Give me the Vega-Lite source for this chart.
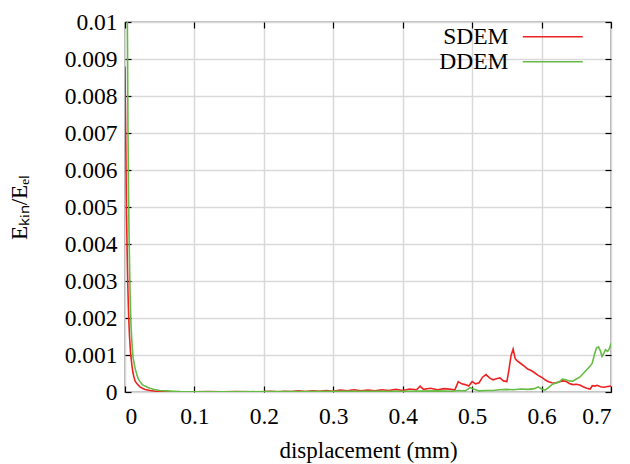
{
  "$schema": "https://vega.github.io/schema/vega-lite/v6.json",
  "width": 486,
  "height": 370,
  "autosize": {"type": "none"},
  "padding": {"left": 125, "top": 22, "right": 19, "bottom": 72},
  "background": "white",
  "config": {
    "view": {"stroke": "#000000", "strokeWidth": 1.2},
    "font": "Liberation Serif",
    "axis": {
      "labelFont": "Liberation Serif",
      "titleFont": "Liberation Serif",
      "labelFontSize": 23.5,
      "titleFontSize": 23,
      "labelColor": "#000000",
      "titleColor": "#000000",
      "titleFontWeight": "normal",
      "domain": false,
      "tickColor": "#000000",
      "tickSize": -6,
      "tickWidth": 1.2,
      "gridColor": "#d9d9d9",
      "gridWidth": 1.5
    }
  },
  "data": {
    "values": [
      {"s": "SDEM", "x": 0, "y": 0.0088},
      {"s": "SDEM", "x": 0.0007, "y": 0.0075},
      {"s": "SDEM", "x": 0.0014, "y": 0.0062},
      {"s": "SDEM", "x": 0.0022, "y": 0.0048},
      {"s": "SDEM", "x": 0.0029, "y": 0.004},
      {"s": "SDEM", "x": 0.0036, "y": 0.0033},
      {"s": "SDEM", "x": 0.0043, "y": 0.0027},
      {"s": "SDEM", "x": 0.005, "y": 0.0022},
      {"s": "SDEM", "x": 0.0058, "y": 0.0018},
      {"s": "SDEM", "x": 0.0065, "y": 0.0015},
      {"s": "SDEM", "x": 0.0072, "y": 0.0013},
      {"s": "SDEM", "x": 0.008, "y": 0.00105},
      {"s": "SDEM", "x": 0.0086, "y": 0.00095},
      {"s": "SDEM", "x": 0.0095, "y": 0.0008},
      {"s": "SDEM", "x": 0.0101, "y": 0.0007},
      {"s": "SDEM", "x": 0.0115, "y": 0.00052},
      {"s": "SDEM", "x": 0.013, "y": 0.0004},
      {"s": "SDEM", "x": 0.0144, "y": 0.0003},
      {"s": "SDEM", "x": 0.0173, "y": 0.00022},
      {"s": "SDEM", "x": 0.0216, "y": 0.00014},
      {"s": "SDEM", "x": 0.025, "y": 0.0001},
      {"s": "SDEM", "x": 0.0288, "y": 0.00007},
      {"s": "SDEM", "x": 0.036, "y": 0.00004},
      {"s": "SDEM", "x": 0.045, "y": 0.00002},
      {"s": "SDEM", "x": 0.06, "y": 0.00001},
      {"s": "SDEM", "x": 0.08, "y": 0.000005},
      {"s": "SDEM", "x": 0.1, "y": 0.000005},
      {"s": "SDEM", "x": 0.12, "y": 0.00001},
      {"s": "SDEM", "x": 0.14, "y": 0.000003},
      {"s": "SDEM", "x": 0.16, "y": 0.00001},
      {"s": "SDEM", "x": 0.18, "y": 0.000005},
      {"s": "SDEM", "x": 0.2, "y": 0.00001},
      {"s": "SDEM", "x": 0.21, "y": 0.00002},
      {"s": "SDEM", "x": 0.22, "y": 0.000005},
      {"s": "SDEM", "x": 0.23, "y": 0.00002},
      {"s": "SDEM", "x": 0.24, "y": 0.00001},
      {"s": "SDEM", "x": 0.25, "y": 0.00003},
      {"s": "SDEM", "x": 0.26, "y": 0.00001},
      {"s": "SDEM", "x": 0.27, "y": 0.00003},
      {"s": "SDEM", "x": 0.28, "y": 0.00002},
      {"s": "SDEM", "x": 0.29, "y": 0.00004},
      {"s": "SDEM", "x": 0.3, "y": 0.00002},
      {"s": "SDEM", "x": 0.31, "y": 0.00005},
      {"s": "SDEM", "x": 0.32, "y": 0.00003},
      {"s": "SDEM", "x": 0.33, "y": 0.00006},
      {"s": "SDEM", "x": 0.34, "y": 0.00003},
      {"s": "SDEM", "x": 0.35, "y": 0.00005},
      {"s": "SDEM", "x": 0.36, "y": 0.00003},
      {"s": "SDEM", "x": 0.37, "y": 0.00006},
      {"s": "SDEM", "x": 0.38, "y": 0.00004},
      {"s": "SDEM", "x": 0.39, "y": 0.00007},
      {"s": "SDEM", "x": 0.4, "y": 0.00004},
      {"s": "SDEM", "x": 0.41, "y": 0.00008},
      {"s": "SDEM", "x": 0.42, "y": 0.00006},
      {"s": "SDEM", "x": 0.425, "y": 0.00016},
      {"s": "SDEM", "x": 0.43, "y": 0.00007},
      {"s": "SDEM", "x": 0.44, "y": 0.0001},
      {"s": "SDEM", "x": 0.45, "y": 0.00006},
      {"s": "SDEM", "x": 0.46, "y": 0.00009},
      {"s": "SDEM", "x": 0.47, "y": 0.00007},
      {"s": "SDEM", "x": 0.475, "y": 0.00005},
      {"s": "SDEM", "x": 0.48, "y": 0.00028},
      {"s": "SDEM", "x": 0.485, "y": 0.00022},
      {"s": "SDEM", "x": 0.49, "y": 0.0002},
      {"s": "SDEM", "x": 0.495, "y": 0.00016},
      {"s": "SDEM", "x": 0.5, "y": 0.00028},
      {"s": "SDEM", "x": 0.505, "y": 0.00022},
      {"s": "SDEM", "x": 0.51, "y": 0.00025},
      {"s": "SDEM", "x": 0.515, "y": 0.0004},
      {"s": "SDEM", "x": 0.52, "y": 0.00047},
      {"s": "SDEM", "x": 0.525, "y": 0.00038},
      {"s": "SDEM", "x": 0.53, "y": 0.00033},
      {"s": "SDEM", "x": 0.535, "y": 0.00036},
      {"s": "SDEM", "x": 0.54, "y": 0.00038},
      {"s": "SDEM", "x": 0.545, "y": 0.0003},
      {"s": "SDEM", "x": 0.55, "y": 0.00028},
      {"s": "SDEM", "x": 0.553, "y": 0.0006},
      {"s": "SDEM", "x": 0.556, "y": 0.00098},
      {"s": "SDEM", "x": 0.559, "y": 0.00116},
      {"s": "SDEM", "x": 0.562, "y": 0.0009},
      {"s": "SDEM", "x": 0.565, "y": 0.00084},
      {"s": "SDEM", "x": 0.57, "y": 0.00077},
      {"s": "SDEM", "x": 0.575, "y": 0.0007},
      {"s": "SDEM", "x": 0.58, "y": 0.00062},
      {"s": "SDEM", "x": 0.585, "y": 0.00058},
      {"s": "SDEM", "x": 0.59, "y": 0.00052},
      {"s": "SDEM", "x": 0.595, "y": 0.00045},
      {"s": "SDEM", "x": 0.6, "y": 0.0004},
      {"s": "SDEM", "x": 0.605, "y": 0.00033},
      {"s": "SDEM", "x": 0.61, "y": 0.00028},
      {"s": "SDEM", "x": 0.615, "y": 0.00025},
      {"s": "SDEM", "x": 0.62, "y": 0.00024},
      {"s": "SDEM", "x": 0.625, "y": 0.00027},
      {"s": "SDEM", "x": 0.63, "y": 0.0003},
      {"s": "SDEM", "x": 0.635, "y": 0.00029},
      {"s": "SDEM", "x": 0.64, "y": 0.00023},
      {"s": "SDEM", "x": 0.645, "y": 0.0002},
      {"s": "SDEM", "x": 0.65, "y": 0.00021},
      {"s": "SDEM", "x": 0.655, "y": 0.00019},
      {"s": "SDEM", "x": 0.66, "y": 0.00014},
      {"s": "SDEM", "x": 0.665, "y": 0.0001},
      {"s": "SDEM", "x": 0.67, "y": 0.00008},
      {"s": "SDEM", "x": 0.673, "y": 0.00017},
      {"s": "SDEM", "x": 0.677, "y": 0.00016},
      {"s": "SDEM", "x": 0.68, "y": 0.00018},
      {"s": "SDEM", "x": 0.685, "y": 0.00014},
      {"s": "SDEM", "x": 0.69, "y": 0.00013},
      {"s": "SDEM", "x": 0.695, "y": 0.00015},
      {"s": "SDEM", "x": 0.7, "y": 0.00016},
      {"s": "DDEM", "x": 0, "y": 0.015},
      {"s": "DDEM", "x": 0.0014, "y": 0.013},
      {"s": "DDEM", "x": 0.0029, "y": 0.011},
      {"s": "DDEM", "x": 0.0036, "y": 0.0095},
      {"s": "DDEM", "x": 0.0043, "y": 0.007},
      {"s": "DDEM", "x": 0.005, "y": 0.0055},
      {"s": "DDEM", "x": 0.0058, "y": 0.0043},
      {"s": "DDEM", "x": 0.0065, "y": 0.0035},
      {"s": "DDEM", "x": 0.0072, "y": 0.0028},
      {"s": "DDEM", "x": 0.008, "y": 0.0022},
      {"s": "DDEM", "x": 0.0086, "y": 0.0018},
      {"s": "DDEM", "x": 0.0095, "y": 0.0015},
      {"s": "DDEM", "x": 0.0101, "y": 0.0013},
      {"s": "DDEM", "x": 0.0115, "y": 0.00095},
      {"s": "DDEM", "x": 0.013, "y": 0.0008},
      {"s": "DDEM", "x": 0.0144, "y": 0.00065},
      {"s": "DDEM", "x": 0.0173, "y": 0.00045},
      {"s": "DDEM", "x": 0.019, "y": 0.00036},
      {"s": "DDEM", "x": 0.0216, "y": 0.00028},
      {"s": "DDEM", "x": 0.025, "y": 0.0002},
      {"s": "DDEM", "x": 0.0288, "y": 0.00016},
      {"s": "DDEM", "x": 0.033, "y": 0.00012},
      {"s": "DDEM", "x": 0.036, "y": 0.0001},
      {"s": "DDEM", "x": 0.042, "y": 0.00007},
      {"s": "DDEM", "x": 0.05, "y": 0.00004},
      {"s": "DDEM", "x": 0.06, "y": 0.00003},
      {"s": "DDEM", "x": 0.07, "y": 0.00002},
      {"s": "DDEM", "x": 0.08, "y": 0.00001},
      {"s": "DDEM", "x": 0.1, "y": 0.000005},
      {"s": "DDEM", "x": 0.15, "y": 0.000005},
      {"s": "DDEM", "x": 0.2, "y": 0.00001},
      {"s": "DDEM", "x": 0.25, "y": 0.00001},
      {"s": "DDEM", "x": 0.3, "y": 0.00002},
      {"s": "DDEM", "x": 0.35, "y": 0.00002},
      {"s": "DDEM", "x": 0.4, "y": 0.00002},
      {"s": "DDEM", "x": 0.45, "y": 0.00003},
      {"s": "DDEM", "x": 0.47, "y": 0.00002},
      {"s": "DDEM", "x": 0.48, "y": 0.00004},
      {"s": "DDEM", "x": 0.49, "y": 0.00003},
      {"s": "DDEM", "x": 0.497, "y": 0.00012},
      {"s": "DDEM", "x": 0.502, "y": 0.00008},
      {"s": "DDEM", "x": 0.51, "y": 0.00003},
      {"s": "DDEM", "x": 0.52, "y": 0.00004},
      {"s": "DDEM", "x": 0.53, "y": 0.00004},
      {"s": "DDEM", "x": 0.54, "y": 0.00006},
      {"s": "DDEM", "x": 0.55, "y": 0.00007},
      {"s": "DDEM", "x": 0.56, "y": 0.00006},
      {"s": "DDEM", "x": 0.57, "y": 0.00008},
      {"s": "DDEM", "x": 0.58, "y": 0.00007},
      {"s": "DDEM", "x": 0.59, "y": 0.00009},
      {"s": "DDEM", "x": 0.595, "y": 0.00014},
      {"s": "DDEM", "x": 0.6, "y": 0.00008},
      {"s": "DDEM", "x": 0.605, "y": 0.00005},
      {"s": "DDEM", "x": 0.61, "y": 0.00012},
      {"s": "DDEM", "x": 0.615, "y": 0.0002},
      {"s": "DDEM", "x": 0.62, "y": 0.00024},
      {"s": "DDEM", "x": 0.625, "y": 0.00027},
      {"s": "DDEM", "x": 0.63, "y": 0.00035},
      {"s": "DDEM", "x": 0.635, "y": 0.00033},
      {"s": "DDEM", "x": 0.64, "y": 0.0003},
      {"s": "DDEM", "x": 0.645, "y": 0.00029},
      {"s": "DDEM", "x": 0.65, "y": 0.00035},
      {"s": "DDEM", "x": 0.655, "y": 0.0004},
      {"s": "DDEM", "x": 0.66, "y": 0.0005},
      {"s": "DDEM", "x": 0.665, "y": 0.0006},
      {"s": "DDEM", "x": 0.67, "y": 0.0007},
      {"s": "DDEM", "x": 0.673, "y": 0.00078},
      {"s": "DDEM", "x": 0.676, "y": 0.001},
      {"s": "DDEM", "x": 0.679, "y": 0.00119},
      {"s": "DDEM", "x": 0.682, "y": 0.00122},
      {"s": "DDEM", "x": 0.685, "y": 0.0011},
      {"s": "DDEM", "x": 0.687, "y": 0.00096},
      {"s": "DDEM", "x": 0.69, "y": 0.00106},
      {"s": "DDEM", "x": 0.692, "y": 0.00114},
      {"s": "DDEM", "x": 0.695, "y": 0.0011},
      {"s": "DDEM", "x": 0.697, "y": 0.00115},
      {"s": "DDEM", "x": 0.699, "y": 0.00125},
      {"s": "DDEM", "x": 0.7, "y": 0.00132}
    ]
  },
  "layer": [
    {
      "mark": {"type": "line", "clip": true, "strokeWidth": 1.6},
      "encoding": {
        "x": {
          "field": "x", "type": "quantitative",
          "scale": {"domain": [0, 0.7], "nice": false, "zero": false},
          "axis": {
            "values": [0, 0.1, 0.2, 0.3, 0.4, 0.5, 0.6, 0.7],
            "format": "~g",
            "title": "displacement (mm)",
            "labelPadding": 18,
            "titlePadding": 12,
            "grid": true
          }
        },
        "y": {
          "field": "y", "type": "quantitative",
          "scale": {"domain": [0, 0.01], "nice": false, "zero": false},
          "axis": {
            "values": [0, 0.001, 0.002, 0.003, 0.004, 0.005, 0.006, 0.007, 0.008, 0.009, 0.01],
            "format": "~g",
            "title": "Eₖᵢₙ/Eₑₗ",
            "labelPadding": 14,
            "titlePadding": 33,
            "grid": true
          }
        },
        "color": {
          "field": "s", "type": "nominal",
          "scale": {"domain": ["SDEM", "DDEM"], "range": ["#ee2222", "#66bb44"]},
          "legend": {
            "title": null,
            "orient": "none",
            "legendX": 416,
            "legendY": 3,
            "symbolType": "M-10,0L10,0",
            "symbolSize": 36,
            "symbolStrokeWidth": 1.6,
            "labelFont": "Liberation Serif",
            "labelFontSize": 23.5,
            "labelColor": "#000000",
            "labelAlign": "right",
            "labelOffset": -56,
            "rowPadding": 0,
            "padding": 0
          }
        }
      }
    },
    {
      "mark": {"type": "line", "opacity": 0},
      "encoding": {
        "x": {
          "field": "x", "type": "quantitative",
          "axis": {
            "orient": "top",
            "values": [0, 0.1, 0.2, 0.3, 0.4, 0.5, 0.6, 0.7],
            "labels": false, "title": null, "grid": false
          }
        },
        "y": {
          "field": "y", "type": "quantitative",
          "axis": {
            "orient": "right",
            "values": [0, 0.001, 0.002, 0.003, 0.004, 0.005, 0.006, 0.007, 0.008, 0.009, 0.01],
            "labels": false, "title": null, "grid": false
          }
        },
        "detail": {"field": "s"}
      }
    }
  ],
  "resolve": {"axis": {"x": "independent", "y": "independent"}}
}
